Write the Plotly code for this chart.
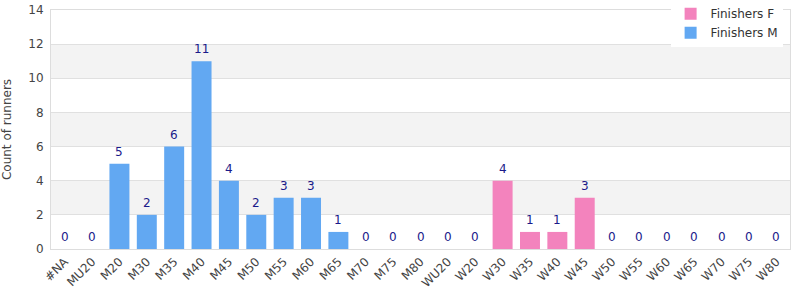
import plotly.graph_objects as go

categories = ["#NA", "MU20", "M20", "M30", "M35", "M40", "M45", "M50", "M55", "M60",
              "M65", "M70", "M75", "M80", "WU20", "W20", "W30", "W35", "W40", "W45",
              "W50", "W55", "W60", "W65", "W70", "W75", "W80"]
finishers_m = [0, 0, 5, 2, 6, 11, 4, 2, 3, 3, 1, 0, 0, 0, 0, 0, 0, 0, 0, 0, 0, 0, 0, 0, 0, 0, 0]
finishers_f = [0, 0, 0, 0, 0, 0, 0, 0, 0, 0, 0, 0, 0, 0, 0, 0, 4, 1, 1, 3, 0, 0, 0, 0, 0, 0, 0]
totals = [m + f for m, f in zip(finishers_m, finishers_f)]

blue = "#62A8F2"
pink = "#F383BD"
font = "DejaVu Sans, Verdana, sans-serif"

fig = go.Figure()
fig.add_trace(go.Bar(x=categories, y=finishers_f, name="Finishers F",
                     marker=dict(color=pink, line=dict(width=0)), width=0.73))
fig.add_trace(go.Bar(x=categories, y=finishers_m, name="Finishers M",
                     marker=dict(color=blue, line=dict(width=0)), width=0.73))

for c, v in zip(categories, totals):
    fig.add_annotation(x=c, y=v, text=str(v), showarrow=False, yanchor="bottom", yshift=3,
                       font=dict(color="#1a1a8a", size=12, family=font))

# alternating bands
for lo in [2, 6, 10]:
    fig.add_shape(type="rect", xref="paper", yref="y", x0=0, x1=1, y0=lo, y1=lo + 2,
                  fillcolor="#F3F3F3", line=dict(width=0), layer="below")

fig.update_layout(
    width=800, height=300,
    margin=dict(l=51, r=10, t=10, b=51, autoexpand=False),
    barmode="overlay",
    plot_bgcolor="white", paper_bgcolor="white",
    font=dict(family=font, size=12, color="#444"),
    legend=dict(x=0.99, xanchor="right", y=1.045, yanchor="top", bgcolor="white",
                font=dict(size=12, color="#333", family=font), tracegroupgap=0,
                itemwidth=30),
    showlegend=True,
)
fig.update_xaxes(tickangle=-45, showline=True, linecolor="#DDDDDD", mirror=True,
                 ticks="", tickfont=dict(size=12, color="#444"), range=[-0.5, 26.5])
fig.update_yaxes(range=[0, 14], dtick=2, showgrid=True, gridcolor="#E0E0E0",
                 showline=True, linecolor="#DDDDDD", mirror=True, zeroline=False,
                 ticklabelstandoff=4,
                 title=dict(text="Count of runners", font=dict(size=12, color="#444"), standoff=14),
                 tickfont=dict(size=12, color="#444"), ticks="")

fig.write_html("out.html")
